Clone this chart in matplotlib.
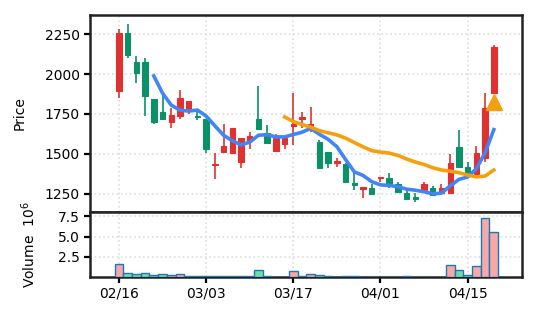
import matplotlib
matplotlib.use("Agg")
import matplotlib.pyplot as plt
import numpy as np
import pandas as pd
from matplotlib.patches import Rectangle

# candle data (one entry per trading day)
opens = [1894, 2254, 2077, 2077, 1842, 1765, 1698, 1737, 1779, 1736,
         1719, 1431, 1510, 1504, 1452, 1581, 1719, 1629, 1519, 1560,
         1675, 1717, 1675, 1577, 1515, 1446, 1435, 1317, 1281, 1285,
         1348, 1352, 1312, 1258, 1229, 1269, 1290, 1254, 1258, 1546,
         1421, 1375, 1473, 1883]
highs = [2281, 2310, 2112, 2098, 1842, 1869, 1785, 1900, 1833, 1781,
         1719, 1504, 1688, 1665, 1598, 1635, 1925, 1681, 1625, 1615,
         1879, 1765, 1796, 1590, 1515, 1477, 1442, 1379, 1296, 1310,
         1358, 1379, 1327, 1285, 1254, 1327, 1302, 1310, 1498, 1650,
         1452, 1550, 1879, 2181]
lows = [1848, 2098, 1946, 1740, 1690, 1717, 1665, 1717, 1748, 1713,
        1508, 1342, 1510, 1498, 1415, 1529, 1656, 1567, 1519, 1529,
        1556, 1660, 1640, 1404, 1410, 1421, 1321, 1275, 1227, 1248,
        1323, 1285, 1254, 1212, 1198, 1269, 1244, 1254, 1258, 1415,
        1373, 1348, 1452, 1883]
closes = [2254, 2119, 2004, 1863, 1698, 1717, 1744, 1848, 1833, 1731,
          1529, 1440, 1552, 1665, 1598, 1615, 1656, 1567, 1598, 1598,
          1688, 1729, 1688, 1410, 1442, 1458, 1327, 1304, 1296, 1248,
          1358, 1310, 1265, 1217, 1217, 1310, 1244, 1285, 1446, 1421,
          1383, 1504, 1785, 2167]
# volume in millions
volumes = [1.54, 0.42, 0.29, 0.42, 0.21, 0.29, 0.21, 0.33, 0.05, 0.03,
           0.08, 0.10, 0.10, 0.08, 0.10, 0.10, 0.79, 0.05, 0.02, 0.02,
           0.75, 0.05, 0.33, 0.17, 0.03, 0.02, 0.05, 0.05, 0.02, 0.01,
           0.01, 0.02, 0.01, 0.05, 0.01, 0.01, 0.01, 0.02, 1.42, 0.79,
           0.21, 1.29, 7.29, 5.54]

tick_pos = [0, 10, 20, 30, 40]
tick_labels = ["02/16", "03/03", "03/17", "04/01", "04/15"]

signal_idx = [43]
signal_price = [1827]

up_color = "#e03131"
down_color = "#0b9068"
vol_up = "#f7a8a8"
vol_down = "#6fdcb0"

df = pd.DataFrame({"open": opens, "high": highs, "low": lows,
                   "close": closes, "volume": volumes})
x = np.arange(len(df))
ma5 = df["close"].rolling(5).mean()
ma20 = df["close"].rolling(20).mean()

fig = plt.figure(figsize=(5.37, 3.22), dpi=100)
ax = fig.add_axes([0.167, 0.3426, 0.8045, 0.6108])
axv = fig.add_axes([0.167, 0.1407, 0.8045, 0.2019], sharex=ax)

w = 0.62
for i, r in df.iterrows():
    c = up_color if r.close >= r.open else down_color
    ax.vlines(i, r.low, r.high, color=c, linewidth=1.2, zorder=2)
    lo = min(r.open, r.close)
    h = max(abs(r.close - r.open), 4)
    ax.add_patch(Rectangle((i - w / 2, lo), w, h, facecolor=c,
                           edgecolor=c, linewidth=0.8, zorder=3))

ax.plot(x, ma5, color="#4285f4", linewidth=2.6, zorder=4)
ax.plot(x, ma20, color="#f4a00e", linewidth=2.6, zorder=4)
ax.plot(signal_idx, signal_price, "^", color="#f4a00e", markersize=11,
        zorder=5)

vcol = [vol_up if c >= o else vol_down for o, c in zip(opens, closes)]
axv.bar(x, volumes, width=1.0, color=vcol, edgecolor="#1f77b4",
        linewidth=1.0, zorder=3)

ax.set_xlim(-3.36, 46.2)
ax.set_ylim(1139, 2369)
ax.set_yticks([1250, 1500, 1750, 2000, 2250])
axv.set_ylim(0, 8.1)
axv.set_yticks([2.5, 5.0, 7.5])
axv.set_xticks(tick_pos)
axv.set_xticklabels(tick_labels)
plt.setp(ax.get_xticklabels(), visible=False)
ax.tick_params(axis="x", length=0)

for a in (ax, axv):
    a.grid(True, color="#dddddd", linestyle=":", linewidth=1.2)
    a.set_axisbelow(True)
    a.tick_params(labelsize=10, width=1.6, length=4, pad=3)
    for s in a.spines.values():
        s.set_linewidth(1.8)
        s.set_color("#222222")

ax.set_ylabel("Price", fontsize=10)
axv.set_ylabel("Volume  $10^{6}$", fontsize=10)
ax.yaxis.set_label_coords(-0.145, 0.5)
axv.yaxis.set_label_coords(-0.12, 0.5)

fig.savefig("out.png", dpi=100)
